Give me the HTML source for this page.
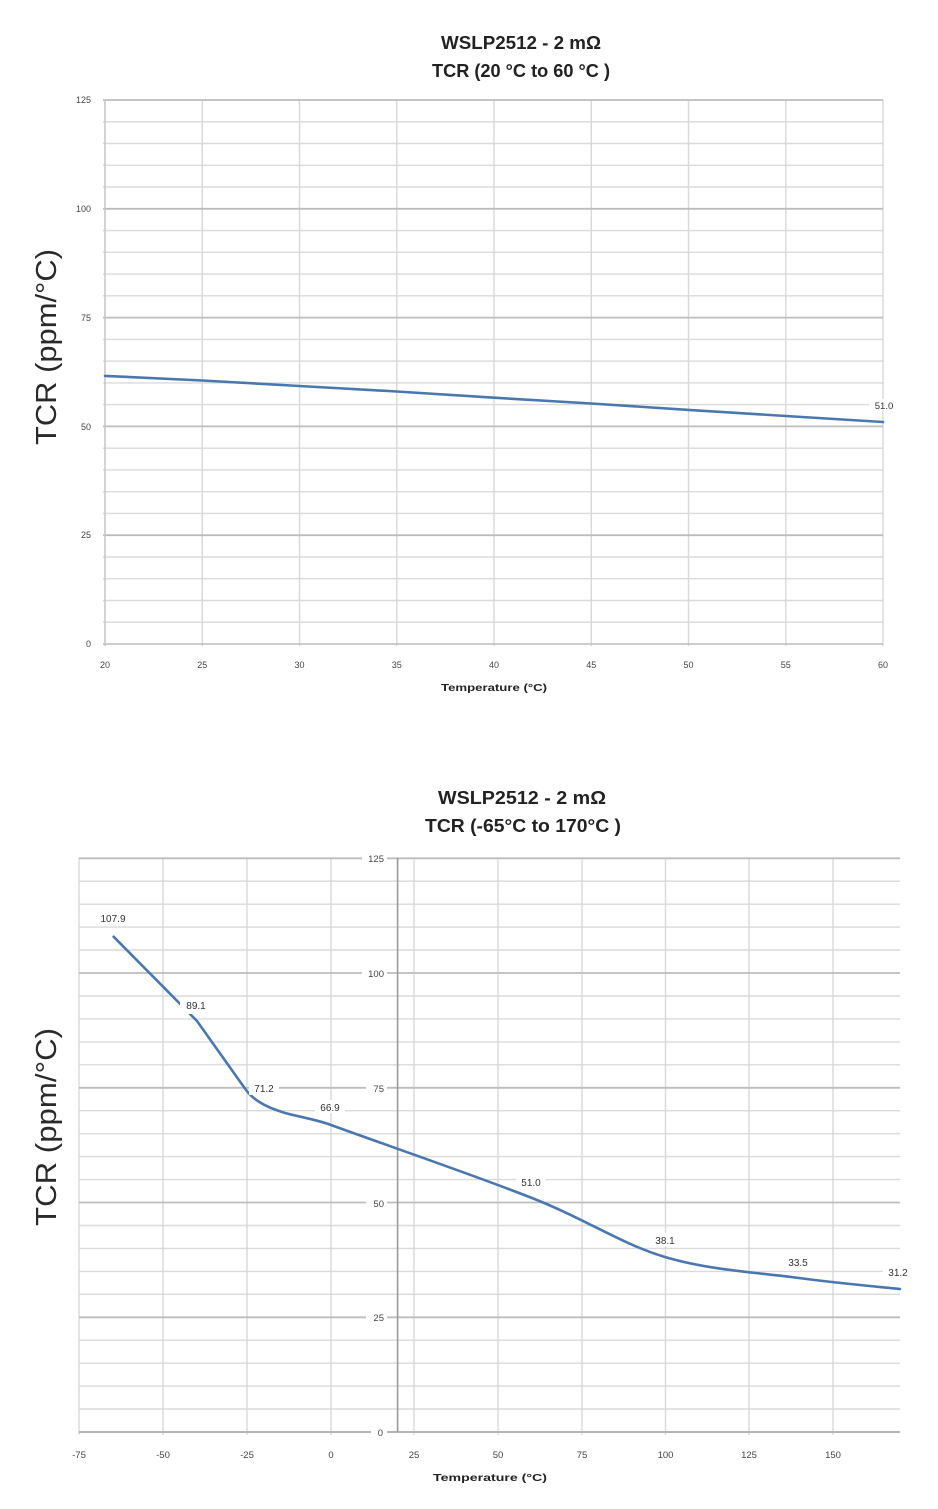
<!DOCTYPE html>
<html><head><meta charset="utf-8"><style>
html,body{margin:0;padding:0;background:#fff;}
svg{display:block;}
text{font-family:"Liberation Sans",sans-serif;}
</style></head><body>
<svg width="938" height="1509" viewBox="0 0 938 1509" xmlns="http://www.w3.org/2000/svg">
<rect width="938" height="1509" fill="#fff"/>

<!-- ============ TOP CHART ============ -->
<text x="521" y="49" text-anchor="middle" font-size="18" font-weight="bold" fill="#222" textLength="160" lengthAdjust="spacingAndGlyphs">WSLP2512 - 2 mΩ</text>
<text x="521" y="77" text-anchor="middle" font-size="18" font-weight="bold" fill="#222" textLength="178" lengthAdjust="spacingAndGlyphs">TCR (20 °C to 60 °C )</text>

<g stroke="#dadada" stroke-width="1.4">
<line x1="103" x2="883" y1="622.2" y2="622.2"/><line x1="103" x2="883" y1="600.5" y2="600.5"/><line x1="103" x2="883" y1="578.7" y2="578.7"/><line x1="103" x2="883" y1="557" y2="557"/>
<line x1="103" x2="883" y1="513.4" y2="513.4"/><line x1="103" x2="883" y1="491.7" y2="491.7"/><line x1="103" x2="883" y1="469.9" y2="469.9"/><line x1="103" x2="883" y1="448.2" y2="448.2"/>
<line x1="103" x2="883" y1="404.6" y2="404.6"/><line x1="103" x2="883" y1="382.9" y2="382.9"/><line x1="103" x2="883" y1="361.1" y2="361.1"/><line x1="103" x2="883" y1="339.4" y2="339.4"/>
<line x1="103" x2="883" y1="295.8" y2="295.8"/><line x1="103" x2="883" y1="274.1" y2="274.1"/><line x1="103" x2="883" y1="252.3" y2="252.3"/><line x1="103" x2="883" y1="230.6" y2="230.6"/>
<line x1="103" x2="883" y1="187" y2="187"/><line x1="103" x2="883" y1="165.3" y2="165.3"/><line x1="103" x2="883" y1="143.5" y2="143.5"/><line x1="103" x2="883" y1="121.8" y2="121.8"/>
</g>
<g stroke="#d8d8d8" stroke-width="1.4">
<line x1="202.3" x2="202.3" y1="100" y2="646"/><line x1="299.5" x2="299.5" y1="100" y2="646"/><line x1="396.8" x2="396.8" y1="100" y2="646"/><line x1="494" x2="494" y1="100" y2="646"/>
<line x1="591.3" x2="591.3" y1="100" y2="646"/><line x1="688.5" x2="688.5" y1="100" y2="646"/><line x1="785.8" x2="785.8" y1="100" y2="646"/><line x1="883" x2="883" y1="100" y2="646"/>
</g>
<g stroke="#bdbdbd" stroke-width="1.8">
<line x1="103" x2="883" y1="535.2" y2="535.2"/><line x1="103" x2="883" y1="426.4" y2="426.4"/><line x1="103" x2="883" y1="317.6" y2="317.6"/><line x1="103" x2="883" y1="208.8" y2="208.8"/><line x1="103" x2="883" y1="100" y2="100"/>
<line x1="103" x2="883" y1="644" y2="644" stroke="#c4c4c4"/>
</g>
<line x1="105" x2="105" y1="100" y2="646" stroke="#c8c8c8" stroke-width="1.6"/>

<g font-size="9" fill="#444" text-anchor="end">
<text x="91" y="103">125</text><text x="91" y="212">100</text><text x="91" y="321">75</text><text x="91" y="430">50</text><text x="91" y="538">25</text><text x="91" y="647">0</text>
</g>
<g font-size="9" fill="#444" text-anchor="middle">
<text x="105" y="668">20</text><text x="202.3" y="668">25</text><text x="299.5" y="668">30</text><text x="396.8" y="668">35</text><text x="494" y="668">40</text><text x="591.3" y="668">45</text><text x="688.5" y="668">50</text><text x="785.8" y="668">55</text><text x="883" y="668">60</text>
</g>
<text x="494" y="691" text-anchor="middle" font-size="10" font-weight="bold" fill="#222" textLength="106" lengthAdjust="spacingAndGlyphs">Temperature (°C)</text>
<text transform="translate(56,347) rotate(-90)" text-anchor="middle" font-size="29" fill="#2a2a2a" textLength="196" lengthAdjust="spacingAndGlyphs">TCR (ppm/°C)</text>

<polyline points="105,375.9 202.3,380.5 299.5,386 396.8,391.5 494,397.7 591.3,403.5 688.5,409.9 785.8,416 883,422" fill="none" stroke="#4a78ae" stroke-width="2.6" stroke-linejoin="round" stroke-linecap="round"/>
<rect x="869" y="399" width="30" height="11" fill="#fff"/>
<text x="884" y="409" text-anchor="middle" font-size="9.5" fill="#333">51.0</text>

<!-- ============ BOTTOM CHART ============ -->
<text x="522" y="804" text-anchor="middle" font-size="18" font-weight="bold" fill="#222" textLength="168" lengthAdjust="spacingAndGlyphs">WSLP2512 - 2 mΩ</text>
<text x="523" y="832" text-anchor="middle" font-size="18" font-weight="bold" fill="#222" textLength="196" lengthAdjust="spacingAndGlyphs">TCR (-65°C to 170°C )</text>

<g stroke="#dadada" stroke-width="1.4">
<line x1="79" x2="900" y1="1409" y2="1409"/><line x1="79" x2="900" y1="1386.1" y2="1386.1"/><line x1="79" x2="900" y1="1363.2" y2="1363.2"/><line x1="79" x2="900" y1="1340.2" y2="1340.2"/>
<line x1="79" x2="900" y1="1294.3" y2="1294.3"/><line x1="79" x2="900" y1="1271.4" y2="1271.4"/><line x1="79" x2="900" y1="1248.4" y2="1248.4"/><line x1="79" x2="900" y1="1225.5" y2="1225.5"/>
<line x1="79" x2="900" y1="1179.6" y2="1179.6"/><line x1="79" x2="900" y1="1156.6" y2="1156.6"/><line x1="79" x2="900" y1="1133.7" y2="1133.7"/><line x1="79" x2="900" y1="1110.7" y2="1110.7"/>
<line x1="79" x2="900" y1="1064.8" y2="1064.8"/><line x1="79" x2="900" y1="1041.9" y2="1041.9"/><line x1="79" x2="900" y1="1018.9" y2="1018.9"/><line x1="79" x2="900" y1="996" y2="996"/>
<line x1="79" x2="900" y1="950" y2="950"/><line x1="79" x2="900" y1="927.1" y2="927.1"/><line x1="79" x2="900" y1="904.2" y2="904.2"/><line x1="79" x2="900" y1="881.2" y2="881.2"/>
</g>
<g stroke="#d8d8d8" stroke-width="1.4">
<line x1="79" x2="79" y1="858" y2="1435"/><line x1="163" x2="163" y1="858" y2="1435"/><line x1="247" x2="247" y1="858" y2="1435"/><line x1="331" x2="331" y1="858" y2="1435"/>
<line x1="414" x2="414" y1="858" y2="1435"/><line x1="498" x2="498" y1="858" y2="1435"/><line x1="582" x2="582" y1="858" y2="1435"/><line x1="665.5" x2="665.5" y1="858" y2="1435"/>
<line x1="749" x2="749" y1="858" y2="1435"/><line x1="833" x2="833" y1="858" y2="1435"/>
</g>
<g stroke="#bdbdbd" stroke-width="1.8">
<line x1="79" x2="900" y1="1317.3" y2="1317.3"/><line x1="79" x2="900" y1="1202.5" y2="1202.5"/><line x1="79" x2="900" y1="1087.8" y2="1087.8"/><line x1="79" x2="900" y1="973" y2="973"/><line x1="79" x2="900" y1="858.3" y2="858.3"/>
<line x1="79" x2="900" y1="1432" y2="1432" stroke="#b5b5b5" stroke-width="2"/>
</g>
<line x1="397.6" x2="397.6" y1="858" y2="1432" stroke="#9a9a9a" stroke-width="1.6"/>

<g fill="#fff">
<rect x="362" y="852" width="25" height="12"/><rect x="362" y="967" width="25" height="12"/><rect x="366" y="1082" width="21" height="12"/><rect x="366" y="1197" width="21" height="12"/><rect x="366" y="1311" width="21" height="12"/><rect x="371" y="1426" width="16" height="12"/>
</g>
<g font-size="9.5" fill="#444" text-anchor="end">
<text x="384" y="862">125</text><text x="384" y="977">100</text><text x="384" y="1092">75</text><text x="384" y="1207">50</text><text x="384" y="1321">25</text><text x="383" y="1436">0</text>
</g>
<g font-size="9.5" fill="#444" text-anchor="middle">
<text x="79" y="1458">-75</text><text x="163" y="1458">-50</text><text x="247" y="1458">-25</text><text x="331" y="1458">0</text><text x="414" y="1458">25</text><text x="498" y="1458">50</text><text x="582" y="1458">75</text><text x="665.5" y="1458">100</text><text x="749" y="1458">125</text><text x="833" y="1458">150</text>
</g>
<text x="490" y="1481" text-anchor="middle" font-size="10" font-weight="bold" fill="#222" textLength="114" lengthAdjust="spacingAndGlyphs">Temperature (°C)</text>
<text transform="translate(56,1127) rotate(-90)" text-anchor="middle" font-size="29" fill="#2a2a2a" textLength="198" lengthAdjust="spacingAndGlyphs">TCR (ppm/°C)</text>

<path d="M113.6,936.7 L197,1021 L246,1090 C252,1098 262,1106 285,1113 C300,1117 318,1120 331,1125 C378.3,1142.3 476.3,1176 532,1198 C587.7,1220 620.5,1243.7 665,1257 C709.5,1270.3 759.8,1272.7 799,1278 C838.2,1283.3 883.2,1287.2 900,1289" fill="none" stroke="#4a78ae" stroke-width="2.6" stroke-linecap="round" stroke-linejoin="round"/>

<g fill="#fff">
<rect x="94" y="911" width="38" height="13"/>
<rect x="180" y="998" width="32" height="16"/>
<rect x="249" y="1081" width="30" height="14"/>
<rect x="315" y="1100" width="30" height="13"/>
<rect x="516" y="1175" width="30" height="13"/>
<rect x="650" y="1233" width="30" height="13"/>
<rect x="783" y="1255" width="30" height="13"/>
<rect x="883" y="1265" width="30" height="13"/>
</g>
<g font-size="10" fill="#333" text-anchor="middle">
<text x="113" y="922">107.9</text>
<text x="196" y="1009">89.1</text>
<text x="264" y="1092">71.2</text>
<text x="330" y="1111">66.9</text>
<text x="531" y="1186">51.0</text>
<text x="665" y="1244">38.1</text>
<text x="798" y="1266">33.5</text>
<text x="898" y="1276">31.2</text>
</g>
</svg>
</body></html>
